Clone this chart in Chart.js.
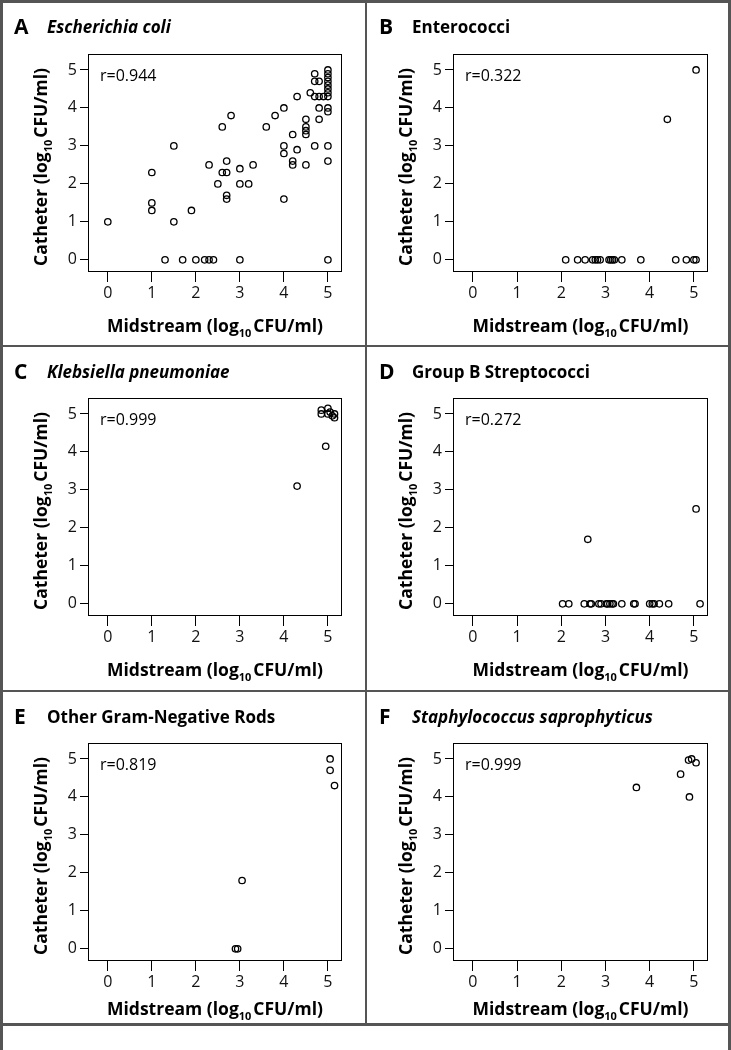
<!DOCTYPE html>
<html>
<head>
<meta charset="utf-8">
<title>Catheter vs midstream</title>
<script src="https://cdn.jsdelivr.net/npm/chart.js@4.4.1/dist/chart.umd.min.js"></script>
<style>
    body { margin: 0; background: #fff; }
    #page { position: relative; width: 731px; height: 1050px; overflow: hidden; }
    .line { position: absolute; background: #555; }
    canvas { position: absolute; }
</style>
</head>
<body>
<div id="page">
    <div class="line" style="left:0;top:0;width:731px;height:3px"></div>
    <div class="line" style="left:0;top:0;width:3px;height:1050px"></div>
    <div class="line" style="left:728px;top:0;width:3px;height:1050px"></div>
    <div class="line" style="left:365px;top:0;width:2px;height:1024px"></div>
    <div class="line" style="left:0;top:345px;width:731px;height:2px"></div>
    <div class="line" style="left:0;top:690px;width:731px;height:2px"></div>
    <div class="line" style="left:0;top:1023px;width:731px;height:3px"></div>
    <canvas id="chartA"></canvas>
    <canvas id="chartB"></canvas>
    <canvas id="chartC"></canvas>
    <canvas id="chartD"></canvas>
    <canvas id="chartE"></canvas>
    <canvas id="chartF"></canvas>
</div>
<script>
// tick labels
const xTicks = [0, 1, 2, 3, 4, 5];
const yTicks = [0, 1, 2, 3, 4, 5];

// A - Escherichia coli (midstream, catheter)
const ecoliMid = [0, 1, 1, 1, 1.5, 1.5, 1.3, 1.7, 1.9, 2.0, 2.2, 2.3, 2.4, 3.0, 5.0,
    2.3, 2.5, 2.6, 2.7, 2.7, 2.7, 2.7, 2.6, 2.8, 3.0, 3.0, 3.2, 3.3, 3.6, 3.8,
    4.0, 4.0, 4.0, 4.0, 4.2, 4.2, 4.2, 4.3, 4.3, 4.5, 4.5, 4.5, 4.5, 4.5, 4.6,
    4.7, 4.7, 4.8, 4.7, 4.8, 4.9, 5.0, 4.7, 4.8, 4.8, 5.0, 5.0, 5.0, 5.0,
    5.0, 5.0, 5.0, 5.0, 5.0, 5.0, 5.0];
const ecoliCath = [1.0, 2.3, 1.5, 1.3, 3.0, 1.0, 0, 0, 1.3, 0, 0, 0, 0, 0, 0,
    2.5, 2.0, 2.3, 2.3, 2.6, 1.7, 1.6, 3.5, 3.8, 2.4, 2.0, 2.0, 2.5, 3.5, 3.8,
    4.0, 3.0, 2.8, 1.6, 3.3, 2.6, 2.5, 2.9, 4.3, 3.7, 3.5, 3.4, 3.3, 2.5, 4.4,
    4.9, 4.7, 4.7, 4.3, 4.3, 4.3, 4.3, 3.0, 4.0, 3.7, 3.0, 2.6, 4.0, 3.9,
    5.0, 4.9, 4.8, 4.7, 4.6, 4.5, 4.4];

// B - Enterococci
const enteroMid = [5.05, 4.4, 2.1, 2.37, 2.54, 2.71, 2.77, 2.82, 2.88, 3.08, 3.12, 3.16,
    3.2, 3.37, 3.8, 4.59, 4.83, 5.0, 5.05];
const enteroCath = [5.0, 3.7, 0, 0, 0, 0, 0, 0, 0, 0, 0, 0, 0, 0, 0, 0, 0, 0, 0];

// C - Klebsiella pneumoniae
const klebMid = [4.3, 4.95, 4.85, 4.85, 5.0, 5.05, 5.1, 5.15, 5.0, 5.15];
const klebCath = [3.1, 4.15, 5.1, 5.0, 5.15, 5.05, 4.95, 4.9, 5.0, 5.0];

// D - Group B Streptococci
const gbsMid = [5.05, 2.6, 2.03, 2.17, 2.52, 2.65, 2.68, 2.85, 2.9, 3.02, 3.05, 3.1, 3.15,
    3.18, 3.37, 3.64, 3.67, 4.0, 4.06, 4.1, 4.22, 4.43, 5.14];
const gbsCath = [2.5, 1.7, 0, 0, 0, 0, 0, 0, 0, 0, 0, 0, 0, 0, 0, 0, 0, 0, 0, 0, 0, 0, 0];

// E - Other Gram-negative rods
const gnrMid = [5.05, 5.05, 5.15, 3.05, 2.9, 2.95];
const gnrCath = [5.0, 4.7, 4.3, 1.8, 0, 0];

// F - Staphylococcus saprophyticus
const staphMid = [3.7, 4.7, 4.9, 4.88, 4.95, 5.05];
const staphCath = [4.25, 4.6, 4.0, 4.97, 5.0, 4.9];

const panels = [
    { id: 'chartA', letter: 'A', title: 'Escherichia coli', italic: true, r: 'r=0.944', mid: ecoliMid, cath: ecoliCath, col: 0, row: 0 },
    { id: 'chartB', letter: 'B', title: 'Enterococci', italic: false, r: 'r=0.322', mid: enteroMid, cath: enteroCath, col: 1, row: 0 },
    { id: 'chartC', letter: 'C', title: 'Klebsiella pneumoniae', italic: true, r: 'r=0.999', mid: klebMid, cath: klebCath, col: 0, row: 1 },
    { id: 'chartD', letter: 'D', title: 'Group B Streptococci', italic: false, r: 'r=0.272', mid: gbsMid, cath: gbsCath, col: 1, row: 1 },
    { id: 'chartE', letter: 'E', title: 'Other Gram-Negative Rods', italic: false, r: 'r=0.819', mid: gnrMid, cath: gnrCath, col: 0, row: 2 },
    { id: 'chartF', letter: 'F', title: 'Staphylococcus saprophyticus', italic: true, r: 'r=0.999', mid: staphMid, cath: staphCath, col: 1, row: 2 }
];

// cell boxes and plot areas, page pixels
const cols = [
    { x: 3, w: 362, left: 88, right: 342 },
    { x: 368, w: 360, left: 453, right: 708 }
];
const rows = [
    { y: 3, h: 342, top: 54, bottom: 272, titleGap: 60 },
    { y: 348, h: 342, top: 398, bottom: 616, titleGap: 60 },
    { y: 693, h: 330, top: 743, bottom: 961, titleGap: 54 }
];

const FONT = '"Open Sans", "Noto Sans", sans-serif';

function drawSubLabel(ctx, x, y, parts) {
    // parts: [before, subscript, after]
    const main = `bold 17.5px ${FONT}`;
    const sub = `bold 11px ${FONT}`;
    ctx.font = main;
    const w0 = ctx.measureText(parts[0]).width;
    const w2 = ctx.measureText(parts[2]).width;
    ctx.font = sub;
    const w1 = ctx.measureText(parts[1]).width + 2;
    let cx = x - (w0 + w1 + w2) / 2;
    ctx.textAlign = 'left';
    ctx.textBaseline = 'alphabetic';
    ctx.font = main;
    ctx.fillText(parts[0], cx, y);
    cx += w0;
    ctx.font = sub;
    ctx.fillText(parts[1], cx, y + 5);
    cx += w1;
    ctx.font = main;
    ctx.fillText(parts[2], cx, y);
}

const panelDecor = {
    id: 'panelDecor',
    afterDraw(chart, args, opts) {
        const ctx = chart.ctx;
        const a = chart.chartArea;
        ctx.save();
        ctx.strokeStyle = '#000';
        ctx.lineWidth = 1;
        ctx.strokeRect(a.left + 0.5, a.top + 0.5, a.right - a.left - 1, a.bottom - a.top - 1);

        ctx.fillStyle = '#000';
        ctx.textAlign = 'left';
        ctx.textBaseline = 'alphabetic';
        ctx.font = `bold 21px ${FONT}`;
        ctx.fillText(opts.letter, 11, 31);
        ctx.font = `${opts.italic ? 'italic ' : ''}bold 17px ${FONT}`;
        ctx.fillText(opts.title, 44, 30);

        ctx.font = `400 16px ${FONT}`;
        ctx.fillText(opts.r, a.left + 12, a.top + 27);

        drawSubLabel(ctx, (a.left + a.right) / 2, a.bottom + opts.titleGap, ['Midstream (log', '10', 'CFU/ml)']);

        ctx.translate(a.left - 41, (a.top + a.bottom) / 2 + 4);
        ctx.rotate(-Math.PI / 2);
        drawSubLabel(ctx, 0, 0, ['Catheter (log', '10', 'CFU/ml)']);
        ctx.restore();
    }
};

panels.forEach(p => {
    const col = cols[p.col];
    const row = rows[p.row];
    const canvas = document.getElementById(p.id);
    canvas.width = col.w;
    canvas.height = row.h;
    canvas.style.left = col.x + 'px';
    canvas.style.top = row.y + 'px';

    const tickFont = { family: FONT, size: 16, weight: '400' };

    new Chart(canvas, {
        type: 'scatter',
        data: {
            datasets: [{
                data: p.mid.map((x, i) => ({ x: x, y: p.cath[i] })),
                pointStyle: 'circle',
                pointRadius: 3.2,
                pointHoverRadius: 3.2,
                borderColor: '#000',
                backgroundColor: 'rgba(0,0,0,0)',
                borderWidth: 1.3,
                clip: false
            }]
        },
        options: {
            responsive: false,
            animation: false,
            devicePixelRatio: 1,
            events: [],
            layout: {
                padding: { left: 0, top: row.top - row.y, right: col.x + col.w - col.right, bottom: 0 }
            },
            plugins: {
                legend: { display: false },
                tooltip: { enabled: false },
                panelDecor: { letter: p.letter, title: p.title, italic: p.italic, r: p.r, titleGap: row.titleGap }
            },
            scales: {
                x: {
                    type: 'linear',
                    min: -0.45,
                    max: 5.32,
                    afterBuildTicks: s => { s.ticks = xTicks.map(v => ({ value: v })); },
                    afterFit: s => { s.height = row.y + row.h - row.bottom; },
                    grid: { display: true, drawOnChartArea: false, drawTicks: true, tickLength: 10, color: '#000', lineWidth: 1 },
                    border: { display: false },
                    ticks: { font: tickFont, color: '#111', padding: 2, maxRotation: 0 }
                },
                y: {
                    type: 'linear',
                    min: -0.32,
                    max: 5.42,
                    afterBuildTicks: s => { s.ticks = yTicks.map(v => ({ value: v })); },
                    afterFit: s => { s.width = col.left - col.x; },
                    grid: { display: true, drawOnChartArea: false, drawTicks: true, tickLength: 8, color: '#000', lineWidth: 1 },
                    border: { display: false },
                    ticks: { font: tickFont, color: '#111', padding: 3 }
                }
            }
        },
        plugins: [panelDecor]
    });
});
</script>
</body>
</html>
